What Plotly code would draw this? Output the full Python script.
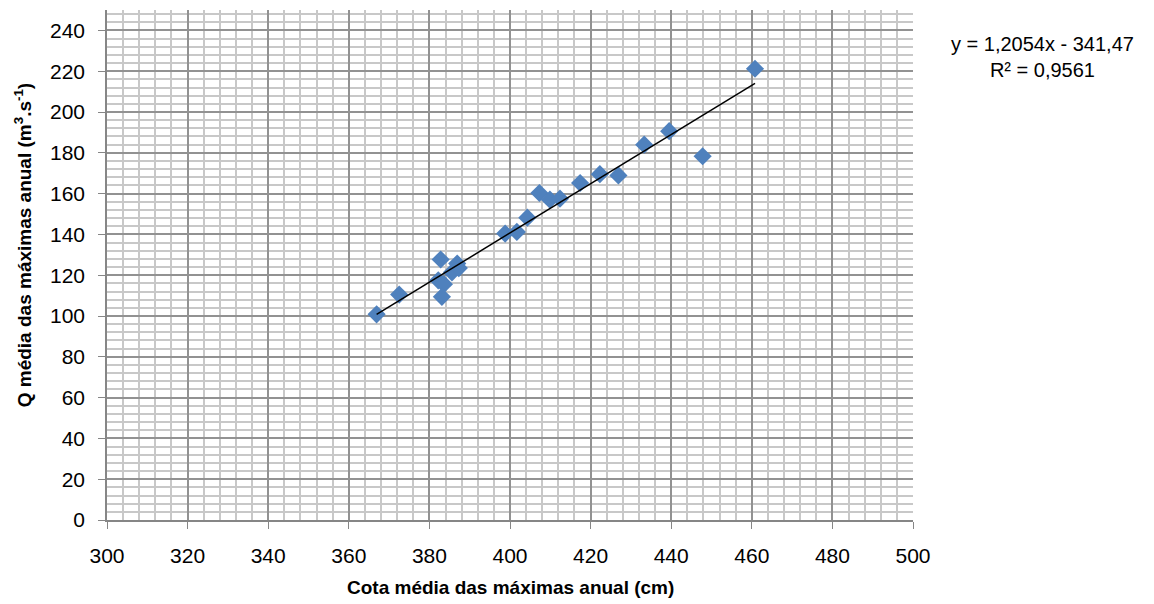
import plotly.graph_objects as go

# Data
cota = [366.9, 372.5, 382.8, 382.2, 383.6, 383.1, 385.6, 386.9, 387.3,
        398.8, 401.7, 404.3, 407.3, 409.9, 412.4, 417.4, 422.3, 426.9,
        433.3, 439.5, 447.8, 460.8]
vazao = [100.8, 110.5, 127.7, 117.5, 115.6, 109.4, 121.4, 125.7, 123.5,
         140.4, 141.2, 148.2, 160.3, 157.0, 157.5, 165.2, 169.5, 168.9,
         184.0, 190.6, 178.3, 221.2]

slope = 1.2054
intercept = -341.47
r2_text = "0,9561"

x_ticks = [300, 320, 340, 360, 380, 400, 420, 440, 460, 480, 500]
y_ticks = [0, 20, 40, 60, 80, 100, 120, 140, 160, 180, 200, 220, 240]

x_title = "<b>Cota média das máximas anual (cm)</b>"
y_title = "<b>Q média das máximas anual (m<sup>3</sup>.s<sup>-1</sup>)</b>"

xmin, xmax = min(cota), max(cota)
trend_x = [xmin, xmax]
trend_y = [slope * v + intercept for v in trend_x]

fig = go.Figure()
fig.add_trace(go.Scatter(
    x=cota, y=vazao, mode="markers",
    marker=dict(symbol="diamond", size=14, color="#4F81BD", line=dict(width=0)),
    showlegend=False, hoverinfo="x+y"))
fig.add_trace(go.Scatter(
    x=trend_x, y=trend_y, mode="lines",
    line=dict(color="black", width=1.5), showlegend=False, hoverinfo="skip"))

font_family = "Liberation Sans, Arial, sans-serif"
axis_common = dict(
    showgrid=True, gridcolor="#929292", gridwidth=1.6,
    showline=True, linecolor="#868686", linewidth=1.6,
    ticks="outside", ticklen=7, tickcolor="#868686", tickwidth=1.4,
    zeroline=False, fixedrange=True,
    tickfont=dict(size=21, family=font_family, color="black"),
)
fig.update_layout(
    width=1146, height=596,
    margin=dict(l=99, r=241, t=2, b=84),
    paper_bgcolor="white", plot_bgcolor="white",
    font=dict(family=font_family, size=17, color="black"),
    xaxis=dict(
        range=[300, 500], tickvals=x_ticks, ticktext=[str(v) for v in x_ticks],
        minor=dict(dtick=4, tick0=300, showgrid=True, gridcolor="#c8c8c8", gridwidth=1.5),
        ticklabelstandoff=9,
        **axis_common),
    yaxis=dict(
        range=[0, 250], tickvals=y_ticks, ticktext=[str(v) for v in y_ticks],
        minor=dict(dtick=4, tick0=0, showgrid=True, gridcolor="#c8c8c8", gridwidth=1.5),
        ticklabelstandoff=9,
        **axis_common),
    annotations=[
        dict(xref="paper", yref="paper", x=1.161, y=0.958, xanchor="center", yanchor="top",
             text=f"y = {str(slope).replace('.', ',')}x - {str(-intercept).replace('.', ',')}<br>R² = {r2_text}",
             showarrow=False, align="center", font=dict(size=20, family=font_family)),
        dict(xref="paper", yref="paper", x=0.5, y=-0.133, xanchor="center", yanchor="middle",
             text=x_title, showarrow=False, font=dict(size=19, family=font_family)),
        dict(xref="paper", yref="paper", x=-0.104, y=0.539, xanchor="center", yanchor="middle",
             text=y_title, textangle=-90, showarrow=False, font=dict(size=19, family=font_family)),
    ],
)

fig.write_html("out.html")
